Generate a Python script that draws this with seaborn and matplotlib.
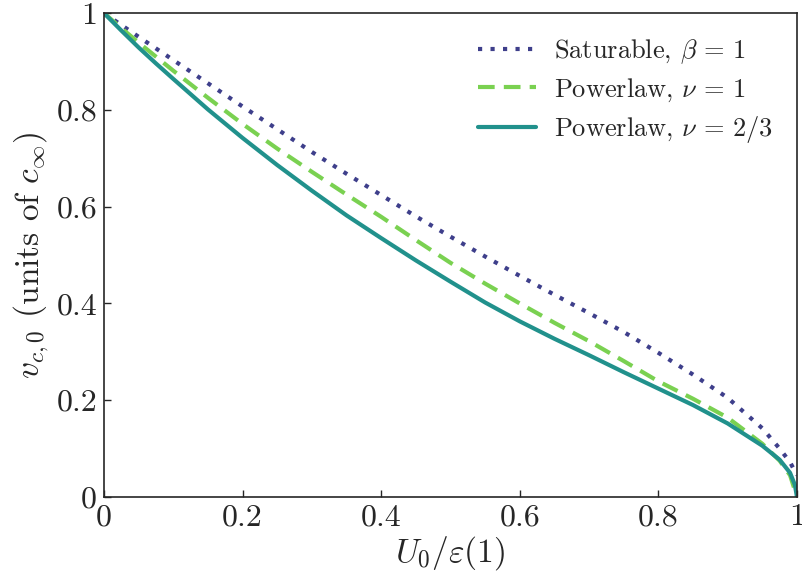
import numpy as np
import pandas as pd
import seaborn as sns
import matplotlib
matplotlib.use('Agg')
import matplotlib.pyplot as plt
from matplotlib.ticker import FuncFormatter

# values
x_sat = [0, 0.05, 0.1, 0.15, 0.2, 0.25, 0.3, 0.35, 0.4, 0.45, 0.5, 0.55, 0.6,
         0.65, 0.7, 0.75, 0.8, 0.85, 0.9, 0.95, 0.975, 0.99, 1.0]
v_sat = [1.0, 0.951, 0.903, 0.855, 0.807, 0.760, 0.713, 0.668, 0.624, 0.580, 0.538,
         0.497, 0.457, 0.418, 0.380, 0.341, 0.298, 0.253, 0.205, 0.142, 0.100, 0.072, 0.045]

x_pow1 = [0, 0.025, 0.05, 0.1, 0.15, 0.2, 0.25, 0.3, 0.35, 0.4, 0.45, 0.5, 0.55, 0.6,
          0.65, 0.7, 0.75, 0.8, 0.85, 0.9, 0.95, 0.975, 0.99, 1.0]
v_pow1 = [1.0, 0.969, 0.939, 0.881, 0.825, 0.771, 0.720, 0.672, 0.625, 0.579, 0.531,
          0.484, 0.441, 0.400, 0.360, 0.322, 0.281, 0.239, 0.203, 0.164, 0.110, 0.075,
          0.045, 0.0]

x_pow23 = [0, 0.025, 0.05, 0.075, 0.1, 0.15, 0.2, 0.25, 0.3, 0.35, 0.4, 0.45, 0.5,
           0.55, 0.6, 0.65, 0.7, 0.75, 0.8, 0.85, 0.9, 0.95, 0.975, 0.99, 0.997, 1.0]
v_pow23 = [1.0, 0.964, 0.929, 0.896, 0.864, 0.801, 0.742, 0.686, 0.633, 0.582, 0.535,
           0.489, 0.445, 0.402, 0.363, 0.327, 0.293, 0.258, 0.224, 0.190, 0.152, 0.106,
           0.077, 0.050, 0.025, 0.0]

labels = [r'Saturable, $\beta\,=\,1$', r'Powerlaw, $\nu\,=\,1$',
          r'Powerlaw, $\nu\,=\,2/3$']
ticks = [0, 0.2, 0.4, 0.6, 0.8, 1]

sns.set_style('ticks')
plt.rcParams['font.family'] = 'serif'
plt.rcParams['font.serif'] = ['cmr10', 'DejaVu Serif']
plt.rcParams['mathtext.fontset'] = 'cm'
plt.rcParams['axes.formatter.use_mathtext'] = True

fig = plt.figure(figsize=(8.03, 5.83), dpi=100)
ax = fig.add_axes([0.1295, 0.1475, 0.863, 0.830])

lw = 3.0
sns.lineplot(x=x_sat, y=v_sat, ax=ax, color='#3e3f8b', lw=lw,
             linestyle=(0, (1, 2)), label=labels[0], estimator=None, sort=False)
sns.lineplot(x=x_pow1, y=v_pow1, ax=ax, color='#7ad151', lw=lw,
             linestyle=(0, (4, 2.2)), label=labels[1], estimator=None, sort=False)
sns.lineplot(x=x_pow23, y=v_pow23, ax=ax, color='#21918c', lw=lw,
             label=labels[2], estimator=None, sort=False)

ax.set_xlim(0, 1)
ax.set_ylim(0, 1)
ax.set_xticks(ticks)
ax.set_yticks(ticks)
fmt = FuncFormatter(lambda v, p: '%g' % v)
ax.xaxis.set_major_formatter(fmt)
ax.yaxis.set_major_formatter(fmt)
ax.tick_params(direction='in', length=5, width=1, labelsize=23, pad=5)
for s in ax.spines.values():
    s.set_linewidth(1.2)

ax.set_xlabel(r'$U_0/\varepsilon(1)$', fontsize=24, labelpad=2)
ax.set_ylabel(r'$v_{c,0}$ (units of $c_\infty$)', fontsize=24, labelpad=4)

ax.legend(loc='upper right', frameon=False, fontsize=19, handlelength=2.2,
          handletextpad=0.7, labelspacing=0.4, borderaxespad=0.5)

fig.savefig('out.png', dpi=100)
